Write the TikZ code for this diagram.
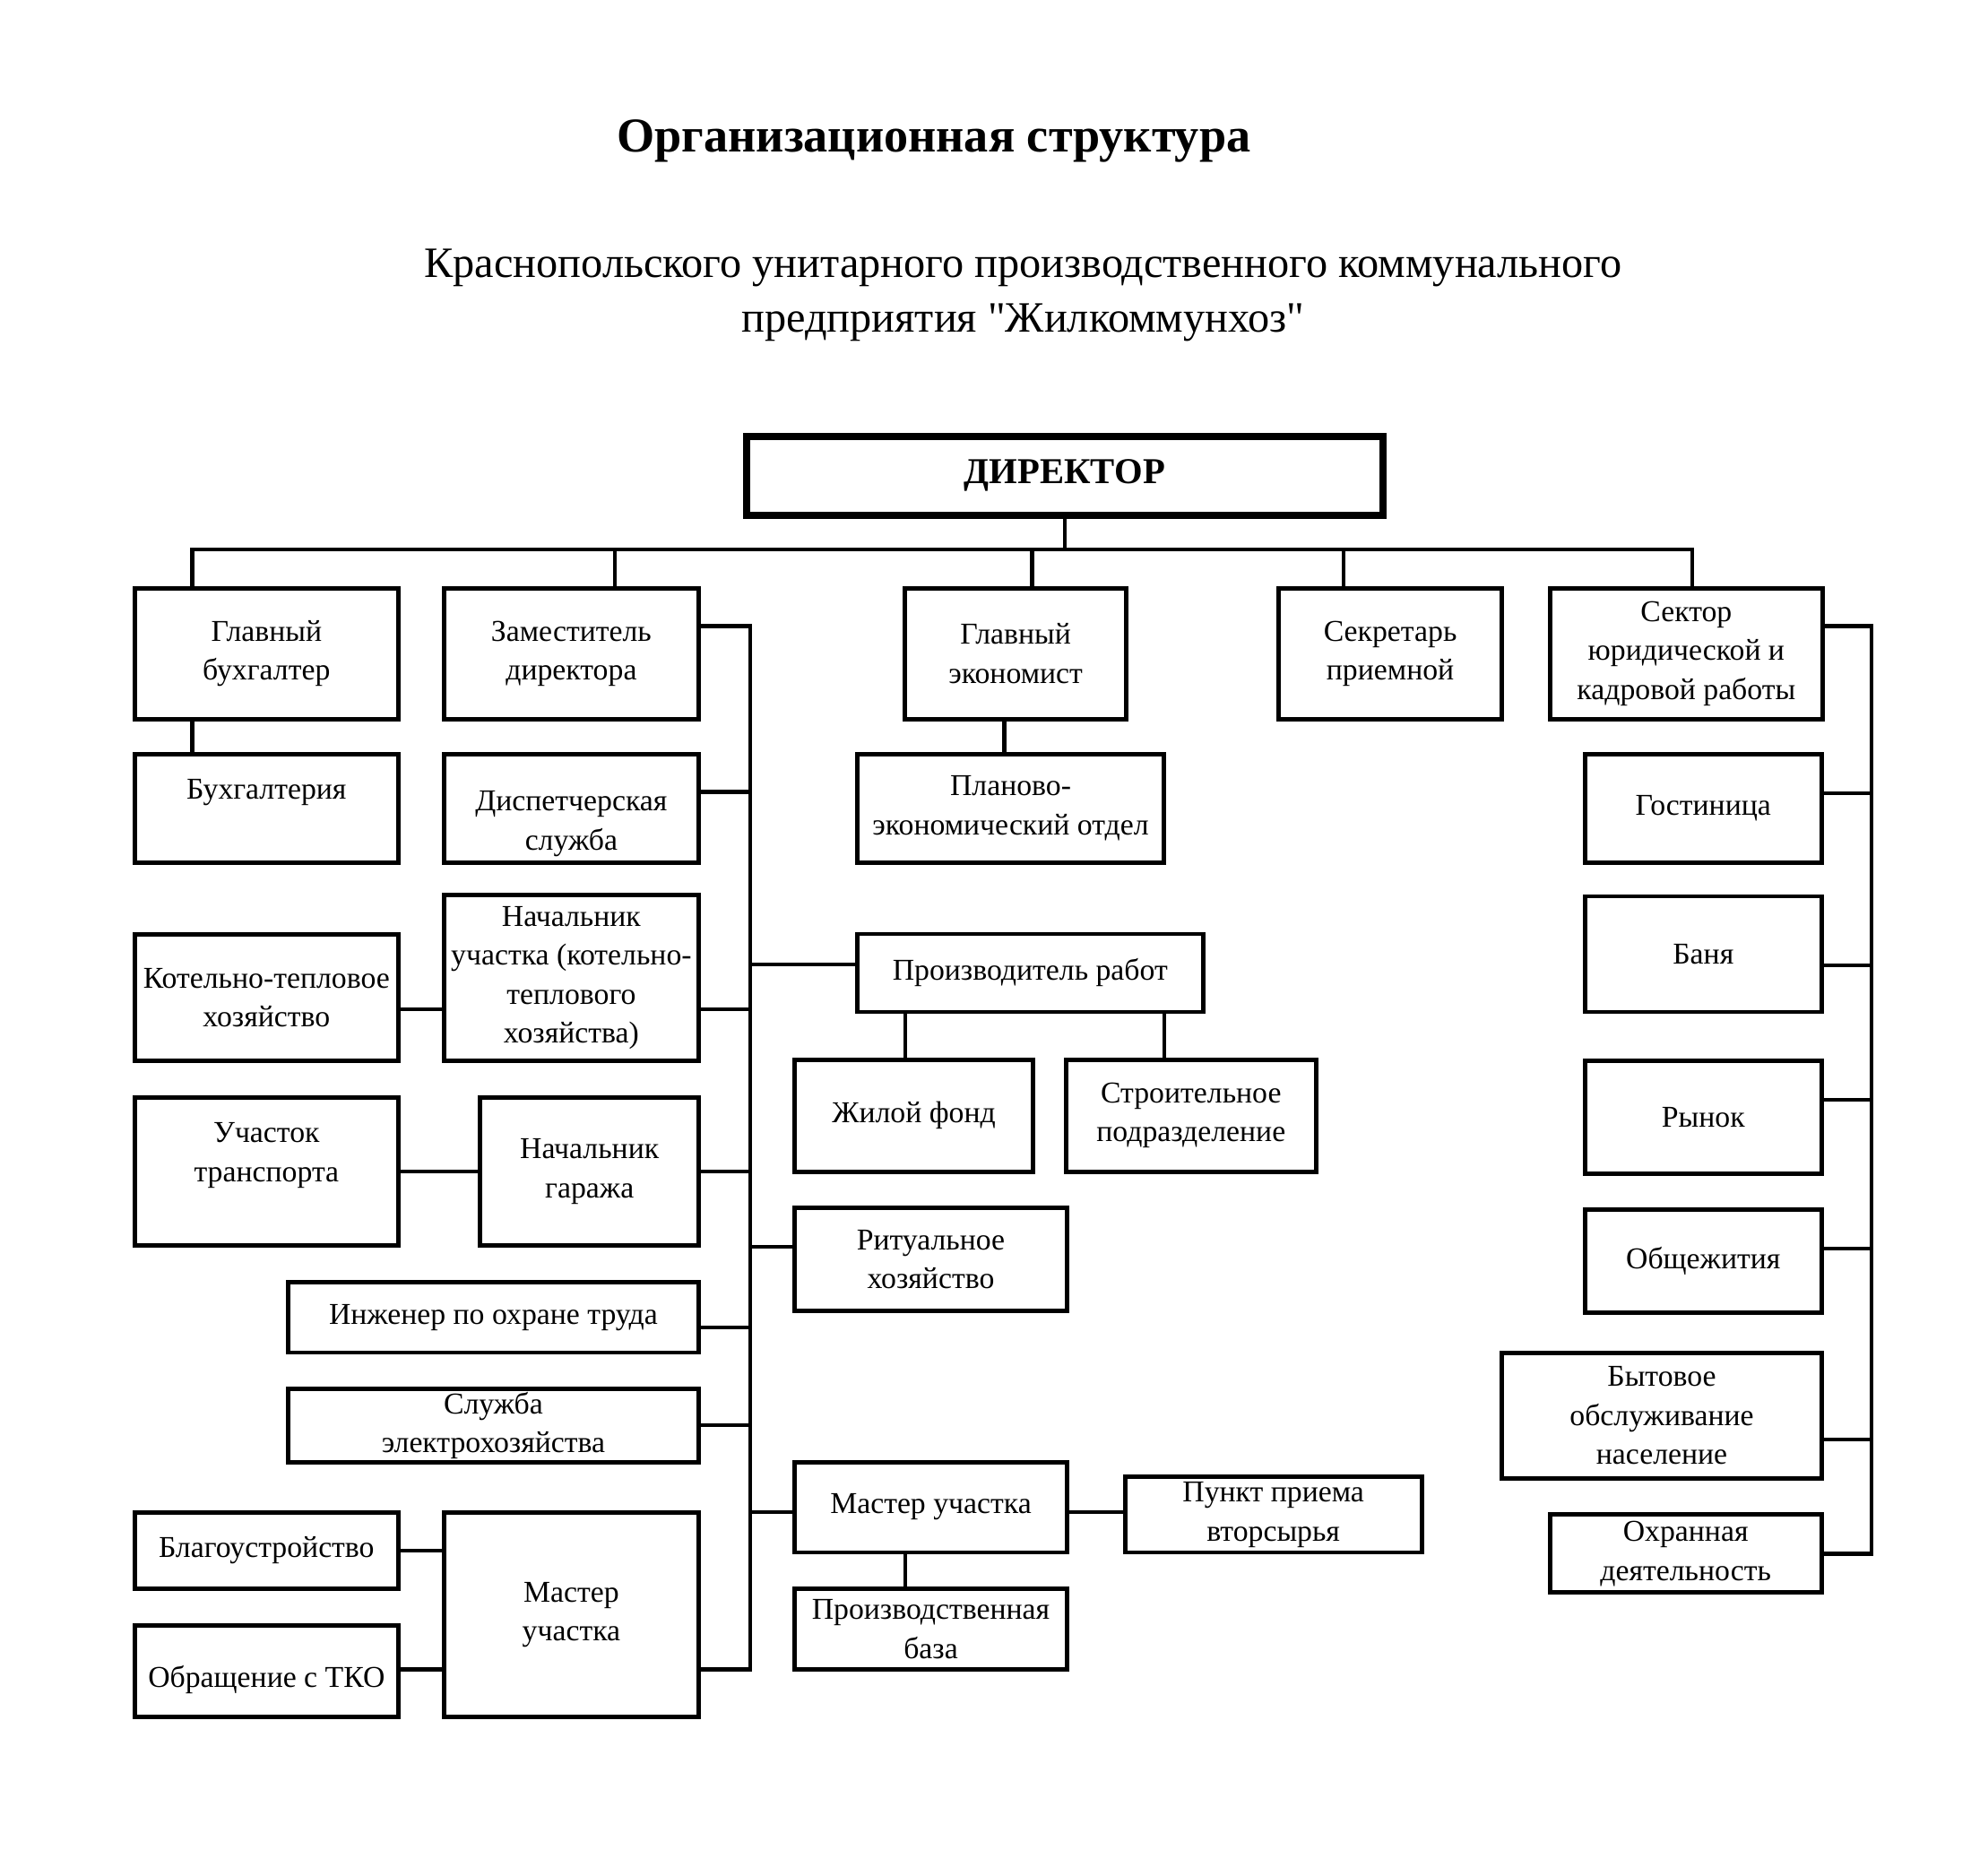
\documentclass[tikz,border=0pt]{standalone}
\usepackage{fontspec}
\setmainfont{Liberation Serif}
\usepackage{tikz}
\usetikzlibrary{positioning, calc}
\newcommand{\plainquote}{\XeTeXglyph\XeTeXcharglyph"22\relax}
\tikzset{
    orgbox/.style = {inner sep=0pt, text centered, align=center,
        draw=black, line width=2pt,
        font=\fontsize{13.7}{17.6}\selectfont},
    headbox/.style = {orgbox, line width=3.2pt,
        font=\fontsize{16.5}{20}\selectfont\bfseries},
    link/.style = {line width=1.7pt, line cap=rect},
}

\begin{document}
\begin{tikzpicture}[x=0.02cm, y=-0.02cm]
            \useasboundingbox (0,0) rectangle (1568,1492);
            % titles
            \node (title) at (743,112) {\fontsize{22}{26}\selectfont\bfseries Организационная структура};
            \node (subtitle) [align=center, font=\fontsize{19.6}{25}\selectfont] at (814,235)
                {Краснопольского унитарного производственного коммунального\\предприятия \plainquote Жилкоммунхоз\plainquote};
            % director and first row
            \node (dir) [headbox, minimum width=10.12cm, minimum height=1.26cm] at (847,378.5) {ДИРЕКТОР};
            \node (glbuh) [orgbox, minimum width=4.2cm, minimum height=2.08cm] at (212,520) {Главный\\бухгалтер};
            \node (zam) [orgbox, minimum width=4.06cm, minimum height=2.08cm] at (454.5,520) {Заместитель\\директора};
            \node (glek) [orgbox, minimum width=3.52cm, minimum height=2.08cm] at (808,520) {Главный\\экономист};
            \node (sekr) [orgbox, minimum width=3.56cm, minimum height=2.08cm] at (1106,520) {Секретарь\\приемной};
            \node (sektor) [orgbox, minimum width=4.34cm, minimum height=2.08cm] at (1341.5,520) {Сектор\\юридической и\\кадровой работы};
            % second row
            \node (buh) [orgbox, minimum width=4.2cm, minimum height=1.72cm] at (212,643) {Бухгалтерия\\~};
            \node (disp) [orgbox, minimum width=4.06cm, minimum height=1.72cm] at (454.5,643) {\rule{0pt}{23pt}Диспетчерская\\служба};
            \node (plan) [orgbox, minimum width=4.88cm, minimum height=1.72cm] at (804,643) {Планово-\\экономический отдел};
            \node (gost) [orgbox, minimum width=3.76cm, minimum height=1.72cm] at (1355,643) {Гостиница};
            % left column
            \node (kot) [orgbox, minimum width=4.2cm, minimum height=2.02cm] at (212,793.5) {Котельно-тепловое\\хозяйство};
            \node (nuk) [orgbox, minimum width=4.06cm, minimum height=2.64cm] at (454.5,778) {Начальник\\участка (котельно-\\теплового\\хозяйства)};
            \node (uchtr) [orgbox, minimum width=4.2cm, minimum height=2.36cm] at (212,932) {Участок\\транспорта\\~};
            \node (ngar) [orgbox, minimum width=3.48cm, minimum height=2.36cm] at (469,932) {Начальник\\гаража};
            \node (inzh) [orgbox, minimum width=6.54cm, minimum height=1.12cm] at (392.5,1048) {Инженер по охране труда};
            \node (elektr) [orgbox, minimum width=6.54cm, minimum height=1.16cm] at (392.5,1134) {Служба\\электрохозяйства};
            \node (blag) [orgbox, minimum width=4.2cm, minimum height=1.22cm] at (212,1233.5) {Благоустройство};
            \node (tko) [orgbox, minimum width=4.2cm, minimum height=1.46cm] at (212,1329.5) {~\\Обращение с ТКО};
            \node (mastl) [orgbox, minimum width=4.06cm, minimum height=3.26cm] at (454.5,1284.5) {Мастер\\участка};
            % middle column
            \node (proizv) [orgbox, minimum width=5.5cm, minimum height=1.24cm] at (819.5,774) {Производитель работ};
            \node (zhil) [orgbox, minimum width=3.8cm, minimum height=1.78cm] at (727,887.5) {Жилой фонд};
            \node (stroi) [orgbox, minimum width=3.98cm, minimum height=1.78cm] at (947.5,887.5) {Строительное\\подразделение};
            \node (ritual) [orgbox, minimum width=4.34cm, minimum height=1.64cm] at (740.5,1002) {Ритуальное\\хозяйство};
            \node (master) [orgbox, minimum width=4.34cm, minimum height=1.44cm] at (740.5,1199) {Мастер участка};
            \node (punkt) [orgbox, minimum width=4.72cm, minimum height=1.2cm] at (1013,1205) {Пункт приема\\вторсырья};
            \node (baza) [orgbox, minimum width=4.34cm, minimum height=1.28cm] at (740.5,1296) {Производственная\\база};
            % right column
            \node (banya) [orgbox, minimum width=3.76cm, minimum height=1.84cm] at (1355,759) {Баня};
            \node (rynok) [orgbox, minimum width=3.76cm, minimum height=1.8cm] at (1355,889) {Рынок};
            \node (obsch) [orgbox, minimum width=3.76cm, minimum height=1.64cm] at (1355,1003) {Общежития};
            \node (byt) [orgbox, minimum width=5.08cm, minimum height=2.0cm] at (1322,1126) {Бытовое\\обслуживание\\население};
            \node (ohran) [orgbox, minimum width=4.32cm, minimum height=1.24cm] at (1341,1236) {Охранная\\деятельность};
            % top bus
            \coordinate (tapA) at (153,437);
            \coordinate (tapB) at (489,437);
            \coordinate (tapC) at (821,437);
            \coordinate (tapD) at (1069,437);
            \coordinate (tapE) at (1346,437);
            \draw[link] (dir.south) -- (dir.south |- tapA);
            \draw[link] (tapA) -- (tapE);
            \draw[link] (tapA) -- (tapA |- glbuh.north);
            \draw[link] (tapB) -- (tapB |- zam.north);
            \draw[link] (tapC) -- (tapC |- glek.north);
            \draw[link] (tapD) -- (tapD |- sekr.north);
            \draw[link] (tapE) -- (tapE |- sektor.north);
            \draw[link] (tapA |- glbuh.south) -- (tapA |- buh.north);
            \draw[link] (799,0 |- glek.south) -- (799,0 |- plan.north);
            % deputy bus
            \coordinate (zbus) at (597,498);
            \coordinate (zend) at (597,1328);
            \draw[link] (zam.east |- zbus) -- (zbus) -- (zend) -- (mastl.east |- zend);
            \draw[link] (disp.east |- 0,630) -- (zbus |- 0,630);
            \draw[link] (nuk.east |- 0,803) -- (zbus |- 0,803);
            \draw[link] (kot.east |- 0,803) -- (nuk.west |- 0,803);
            \draw[link] (zbus |- 0,767) -- (proizv.west |- 0,767);
            \draw[link] (720,0 |- proizv.south) -- (720,0 |- zhil.north);
            \draw[link] (926,0 |- proizv.south) -- (926,0 |- stroi.north);
            \draw[link] (ngar.east) -- (zbus |- ngar.east);
            \draw[link] (uchtr.east) -- (ngar.west);
            \draw[link] (zbus |- 0,992) -- (ritual.west |- 0,992);
            \draw[link] (inzh.east |- 0,1056) -- (zbus |- 0,1056);
            \draw[link] (elektr.east) -- (zbus |- elektr.east);
            \draw[link] (zbus |- 0,1203) -- (master.west |- 0,1203);
            \draw[link] (master.east |- 0,1203) -- (punkt.west |- 0,1203);
            \draw[link] (720,0 |- master.south) -- (720,0 |- baza.north);
            \draw[link] (blag.east) -- (mastl.west |- blag.east);
            \draw[link] (tko.east |- zend) -- (mastl.west |- zend);
            % right bus
            \coordinate (rbus) at (1489,498);
            \draw[link] (sektor.east |- rbus) -- (rbus) -- (rbus |- ohran.east) -- (ohran.east);
            \draw[link] (gost.east |- 0,631) -- (rbus |- 0,631);
            \draw[link] (banya.east |- 0,768) -- (rbus |- 0,768);
            \draw[link] (rynok.east |- 0,875) -- (rbus |- 0,875);
            \draw[link] (obsch.east |- 0,993) -- (rbus |- 0,993);
            \draw[link] (byt.east |- 0,1145) -- (rbus |- 0,1145);
            \end{tikzpicture}
\end{document}
